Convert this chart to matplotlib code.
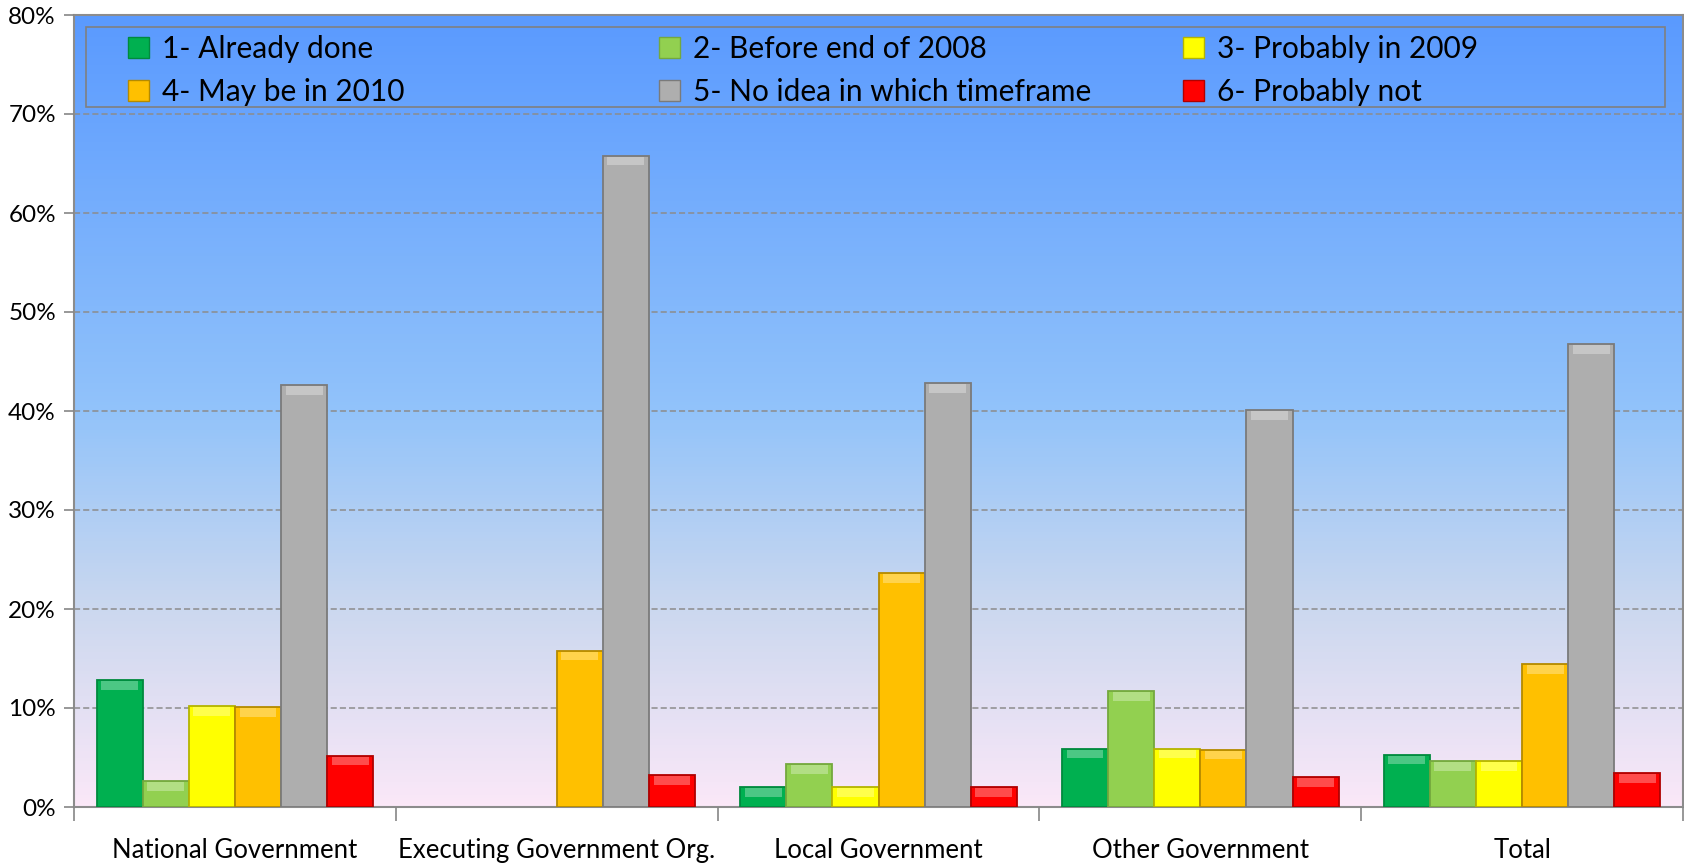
import numpy as np
import matplotlib
matplotlib.use("Agg")
import matplotlib.pyplot as plt
from matplotlib.colors import LinearSegmentedColormap
from matplotlib.patches import Patch, Rectangle

categories = ["National Government", "Executing Government Org.", "Local Government",
              "Other Government", "Total"]
series_names = ["1- Already done", "2- Before end of 2008", "3- Probably in 2009",
                "4- May be in 2010", "5- No idea in which timeframe", "6- Probably not"]
already_done = [12.8, 0.0, 2.0, 5.9, 5.3]
before_2008 = [2.6, 0.0, 4.3, 11.7, 4.6]
prob_2009 = [10.2, 0.0, 2.0, 5.9, 4.6]
maybe_2010 = [10.1, 15.8, 23.6, 5.8, 14.4]
no_idea = [42.6, 65.8, 42.8, 40.1, 46.8]
prob_not = [5.2, 3.2, 2.0, 3.0, 3.4]
series_values = [already_done, before_2008, prob_2009, maybe_2010, no_idea, prob_not]
yticks = [0, 10, 20, 30, 40, 50, 60, 70, 80]
ytick_labels = ["0%", "10%", "20%", "30%", "40%", "50%", "60%", "70%", "80%"]

colors = ["#00B050", "#92D050", "#FFFF00", "#FFC000", "#AEAEAE", "#FF0000"]
edges = ["#008A3E", "#74A83E", "#B4B400", "#B48A00", "#7A7A7A", "#B00000"]

plt.rcParams['font.family'] = ['Lato', 'DejaVu Sans']

fig = plt.figure(figsize=(16.84, 8.66), dpi=100)
ax = fig.add_axes([74/1684, 1-807/866, 1609/1684, (807-15)/866])

n = len(categories)
ax.set_xlim(-0.5, n - 0.5)
ax.set_ylim(0, 80)

# gradient background
cmap = LinearSegmentedColormap.from_list(
    "bg", [(0.0, "#FBE8F8"), (0.25, "#CBD8EF"), (0.5, "#92C3FA"), (1.0, "#5A9AFF")])
grad = np.linspace(0, 1, 256).reshape(-1, 1)
ax.imshow(grad, extent=(-0.5, n - 0.5, 0, 80), origin="lower", aspect="auto",
          cmap=cmap, zorder=0)

group_w = 0.86
bw = group_w / 6
x = np.arange(n)
for i, (vals, c, ec) in enumerate(zip(series_values, colors, edges)):
    pos = x - group_w / 2 + bw * (i + 0.5)
    vals = np.asarray(vals)
    ecs = [ec if v > 0 else "none" for v in vals]
    ax.bar(pos, vals, width=bw, color=c, edgecolor=ecs, linewidth=1.3, zorder=3)
    # bevel highlight at the top of each bar
    hl = np.where(vals > 0, np.minimum(vals, 0.9), 0)
    ax.bar(pos, hl, bottom=vals - hl - 0.1, width=bw * 0.8, color="white", alpha=0.3,
           linewidth=0, zorder=4)

ax.set_yticks(yticks)
ax.set_yticklabels(ytick_labels)
ax.yaxis.grid(True, linestyle=(0, (4, 2)), color="#8C8C8C", linewidth=1.1, zorder=1)
ax.set_axisbelow(False)

ax.set_xticks(x)
ax.set_xticklabels(categories)
ax.set_xticks(np.arange(-0.5, n, 1.0), minor=True)
ax.tick_params(axis="x", which="major", length=0, pad=22, labelsize=18.5, colors="black")
ax.tick_params(axis="x", which="minor", length=10, width=1.2, color="#868686", direction="out")
ax.tick_params(axis="y", which="major", length=7, width=1.2, color="#868686",
               labelsize=17.5, pad=6)

for s in ax.spines.values():
    s.set_color("#8C8C8C")
    s.set_linewidth(1.5)

# legend: frame + three two-row columns
ax.add_patch(Rectangle((0.0075, 0.884), 0.9815, 0.101, transform=ax.transAxes,
                       fill=False, edgecolor="#808080", linewidth=1.2, zorder=5))
handles = [Patch(facecolor=c, edgecolor=ec, label=l)
           for c, ec, l in zip(colors, edges, series_names)]
col_x = [0.0335, 0.3635, 0.689]
for j in range(3):
    hs = [handles[j], handles[j + 3]]
    leg = ax.legend(hs, [h.get_label() for h in hs], loc="upper left",
                    bbox_to_anchor=(col_x[j], 0.975), frameon=False, fontsize=21.5,
                    handlelength=0.7, handleheight=0.7, handletextpad=0.45,
                    borderpad=0.0, borderaxespad=0.0, labelspacing=0.52)
    leg.set_zorder(6)
    if j < 2:
        ax.add_artist(leg)

fig.savefig("out.png", dpi=100)
